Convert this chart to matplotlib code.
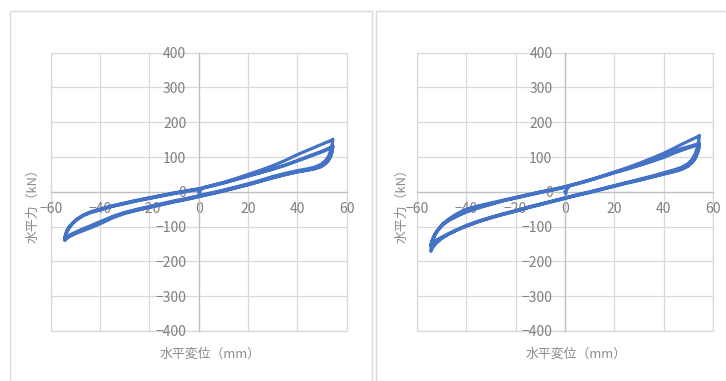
import numpy as np
import matplotlib.pyplot as plt
from matplotlib.patches import Rectangle

plt.rcParams['font.family'] = ['Noto Sans CJK JP', 'DejaVu Sans']

# displacement (mm) along each branch
x_first = [0, 0.3, 0.5, 2, 5, 10, 15, 20, 25, 30, 35, 40, 44, 47, 50, 52, 53.5, 54.3]
x_down = [54.4, 54.1, 53.5, 52.6, 51.3, 49.6, 47, 44, 40, 35, 30, 25, 20, 15, 10, 5,
          0, -5, -10, -15, -20, -25, -30, -35, -40, -44, -47, -50, -52, -53.5, -54.3]
x_up = [-54.3, -54.0, -53.4, -52.5, -51.2, -49.5, -47, -44, -40, -35, -30, -25, -20, -15, -10, -5,
        0, 5, 10, 15, 20, 25, 30, 35, 40, 44, 47, 50, 52, 53.5, 54.4]

# left chart, force (kN)
a_first = [0, -6, 4, 12, 18, 27, 38, 50, 62, 75, 90, 107, 119, 128, 137, 143, 147, 151]
a_down1 = [151, 136, 118, 102, 89, 79, 71, 66, 61, 53, 44, 33, 23, 14, 5, -3,
           -11, -19, -26, -34, -42, -50, -59, -71, -86, -98, -107, -118, -126, -134, -140]
a_up1 = [-140, -128, -115, -103, -92, -80, -68, -58, -49, -40, -32, -24, -17, -10, -3, 3,
         9, 17, 26, 36, 46, 56, 66, 77, 90, 101, 109, 117, 123, 128, 132]
a_down2 = [132, 118, 104, 92, 82, 74, 67, 63, 58, 50, 41, 31, 21, 12, 3, -5,
           -13, -21, -28, -36, -44, -52, -61, -73, -88, -100, -108, -116, -123, -129, -134]
a_up2 = [-134, -123, -111, -100, -90, -79, -68, -59, -51, -41, -33, -25, -18, -11, -4, 2,
         8, 16, 25, 35, 45, 55, 65, 76, 89, 99, 107, 115, 121, 126, 130]
a_down3 = [130, 116, 102, 90, 80, 72, 66, 62, 57, 49, 40, 30, 20, 11, 2, -6,
           -14, -22, -29, -37, -45, -53, -62, -75, -92, -104, -112, -120, -127, -132, -136]
a_up3 = [-136, -125, -113, -102, -91, -80, -69, -60, -52, -42, -34, -26, -19, -12, -5, 1, 7]

# right chart, force (kN)
b_first = [0, -6, 5, 18, 24, 34, 45, 57, 69, 82, 96, 111, 125, 136, 146, 153, 158, 162]
b_down1 = [162, 146, 127, 108, 92, 80, 70, 63, 55, 45, 36, 27, 18, 9, 0, -8,
           -17, -26, -35, -44, -54, -63, -73, -84, -97, -110, -121, -135, -147, -160, -171]
b_up1 = [-171, -155, -138, -122, -108, -92, -78, -64, -50, -40, -32, -24, -16, -8, 0, 7,
         15, 24, 34, 45, 56, 66, 77, 89, 103, 116, 124, 130, 134, 137, 139]
b_down2 = [139, 125, 110, 96, 84, 74, 65, 59, 52, 43, 34, 26, 17, 8, -1, -9,
           -18, -27, -36, -45, -55, -64, -74, -85, -98, -110, -120, -131, -139, -147, -155]
b_up2 = [-155, -145, -133, -120, -107, -94, -81, -70, -57, -45, -35, -25, -17, -9, -1, 6,
         14, 23, 33, 44, 55, 65, 76, 87, 99, 111, 119, 126, 131, 135, 138]
b_down3 = [138, 124, 109, 95, 83, 73, 64, 58, 51, 42, 33, 25, 16, 7, -2, -10,
           -19, -28, -37, -46, -56, -65, -75, -86, -99, -111, -121, -132, -140, -148, -156]
b_up3 = [-156, -146, -134, -121, -108, -95, -82, -71, -58, -46, -36, -26, -18, -10, -2, 5, 13]

x_ticks = [-60, -40, -20, 0, 20, 40, 60]
y_ticks = [-400, -300, -200, -100, 0, 100, 200, 300, 400]
x_label = '水平変位（mm）'
y_label = '水平力（kN）'

W, H = 726, 381


def build(first, d1, u1, d2, u2, d3, u3):
    xs = np.concatenate([x_first, x_down, x_up, x_down, x_up, x_down, x_up[:len(u3)]])
    ys = np.concatenate([first, d1, u1, d2, u2, d3, u3])
    return xs, ys


def draw(ax, xs, ys):
    ax.plot(xs, ys, color='#4472C4', lw=2.3, solid_joinstyle='round', zorder=3)
    ax.set_xlim(-60, 60)
    ax.set_ylim(-400, 400)
    ax.set_xticks(x_ticks)
    ax.set_yticks(y_ticks)
    ax.grid(color='#d9d9d9', lw=0.9)
    ax.set_axisbelow(True)
    for s in ['top', 'right']:
        ax.spines[s].set_visible(False)
    ax.spines['left'].set_position(('data', 0))
    ax.spines['bottom'].set_position(('data', 0))
    for s in ['left', 'bottom']:
        ax.spines[s].set_color('#bfbfbf')
        ax.spines[s].set_linewidth(0.9)
    ax.add_patch(Rectangle((0, 0), 1, 1, transform=ax.transAxes, fill=False,
                           ec='#d9d9d9', lw=0.9, clip_on=False, zorder=0))
    ax.tick_params(length=0, labelsize=10, labelcolor='#7f7f7f')
    ax.tick_params(axis='x', pad=7)
    ax.tick_params(axis='y', pad=9)


fig = plt.figure(figsize=(W / 100, H / 100), dpi=100)

# chart frames
fig.patches.append(Rectangle((9.5 / W, -0.01), (372 - 9.5) / W, 1 - 11 / H + 0.01,
                             transform=fig.transFigure, fill=False, ec='#d9d9d9', lw=1))
fig.patches.append(Rectangle((376 / W, -0.01), (W + 5 - 376) / W, 1 - 11 / H + 0.01,
                             transform=fig.transFigure, fill=False, ec='#d9d9d9', lw=1))

ax1 = fig.add_axes([50.7 / W, 50 / H, 296 / W, 278.3 / H])
ax2 = fig.add_axes([416.7 / W, 50 / H, 296.6 / W, 278.3 / H])

draw(ax1, *build(a_first, a_down1, a_up1, a_down2, a_up2, a_down3, a_up3))
draw(ax2, *build(b_first, b_down1, b_up1, b_down2, b_up2, b_down3, b_up3))

for xl, xx in [(33, 209.8), (401.7, 575.8)]:
    fig.text(xl / W, 1 - 203 / H, y_label, rotation=90, ha='center', va='center',
             fontsize=9.3, color='#8c8c8c')
    fig.text(xx / W, 1 - 354 / H, x_label, ha='center', va='center',
             fontsize=9.3, color='#8c8c8c')

fig.savefig('out.png', dpi=100)
